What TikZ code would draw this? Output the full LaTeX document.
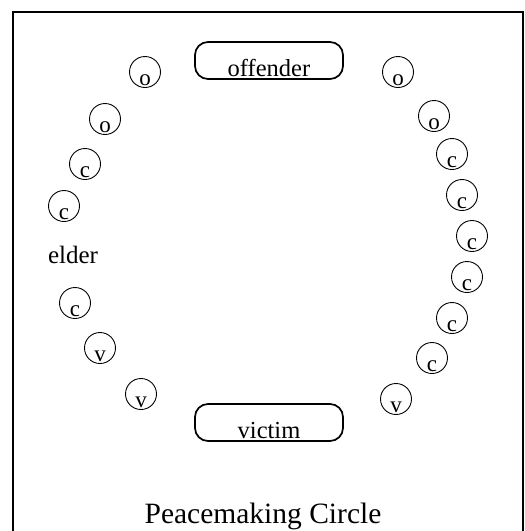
\documentclass[tikz,border=0pt]{standalone}
\usepackage{fontspec}
\setmainfont{Liberation Serif}

\begin{document}
\begin{tikzpicture}[x=1pt,y=-1pt,
  seat/.style={draw,circle,minimum size=31pt,inner sep=0pt,line width=0.9pt,
               font=\fontsize{23}{23}\selectfont,text height=27pt,text depth=0pt},
  party/.style={draw,rounded corners=13pt,line width=1.7pt,minimum width=148pt,
                minimum height=37pt,inner sep=0pt,font=\fontsize{24.5}{24.5}\selectfont,
                text height=31pt,text depth=0pt}]
\useasboundingbox (0,0) rectangle (525,531);
\draw[line width=1.2pt] (13,531) -- (13,12) -- (523,12) -- (523,531);
\node[party] (off) at (269,60.5) {offender};
\node[party] (vic) at (269,422.5) {victim};
% left side of the circle
\node[seat] (lo1) at (145,72) {o};
\node[seat] (lo2) at (105,119) {o};
\node[seat] (lc1) at (85,164) {c};
\node[seat] (lc2) at (64,206) {c};
\node[anchor=base,font=\fontsize{25}{25}\selectfont] (elder) at (73,263) {elder};
\node[seat] (lc3) at (75,303) {c};
\node[seat] (lv1) at (100,348) {v};
\node[seat] (lv2) at (141,394) {v};
% right side of the circle
\node[seat] (ro1) at (398,72) {o};
\node[seat] (ro2) at (434,116) {o};
\node[seat] (rc1) at (452,154) {c};
\node[seat] (rc2) at (462,195) {c};
\node[seat] (rc3) at (472,236) {c};
\node[seat] (rc4) at (467,277) {c};
\node[seat] (rc5) at (452,318) {c};
\node[seat] (rc6) at (432,358) {c};
\node[seat] (rv1) at (396,399) {v};
\node[anchor=base,font=\fontsize{29.5}{29.5}\selectfont] (title) at (263,523) {Peacemaking Circle};
\end{tikzpicture}
\end{document}
